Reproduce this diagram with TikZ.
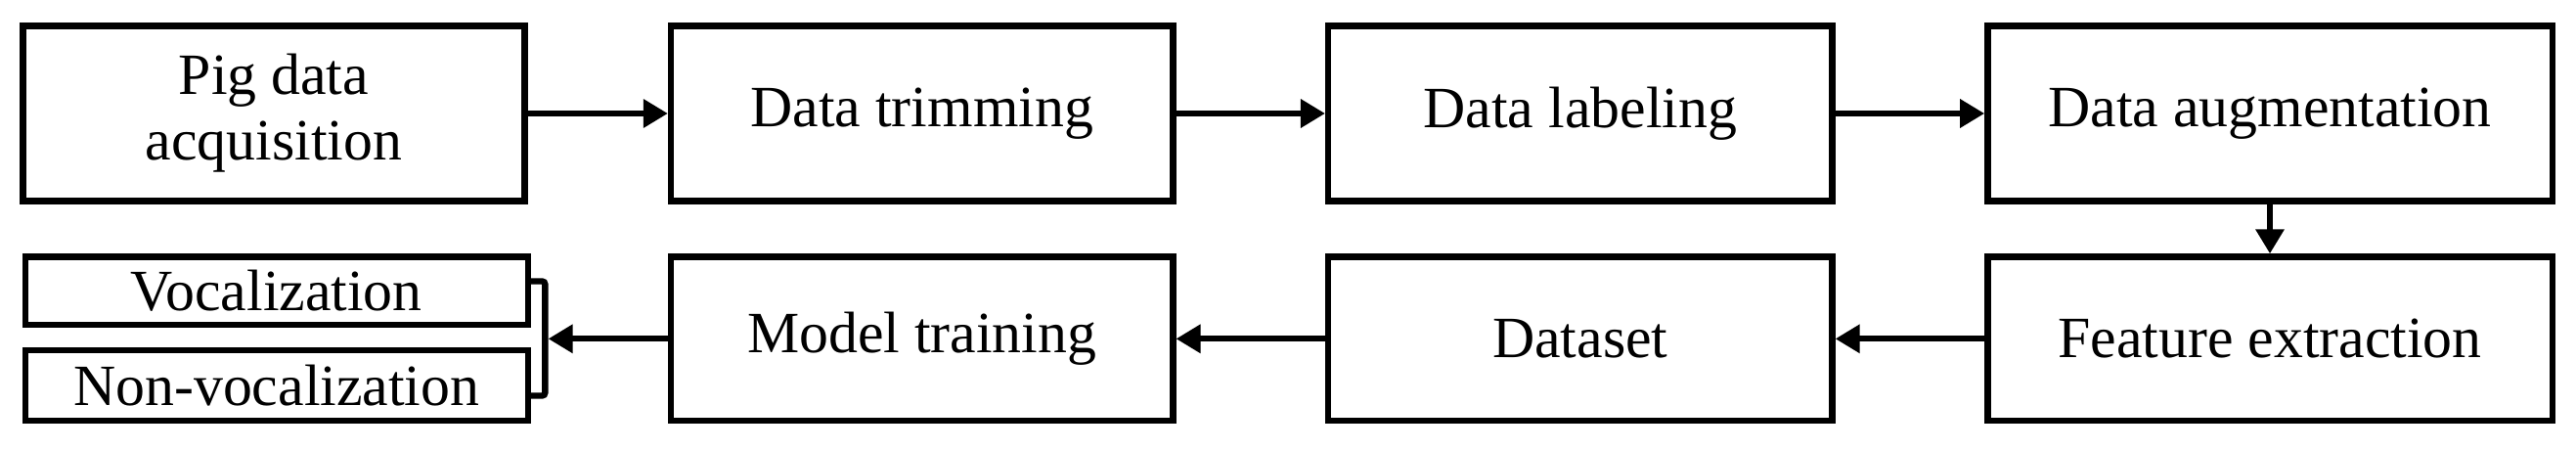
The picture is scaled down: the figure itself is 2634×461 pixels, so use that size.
\documentclass[tikz,border=0pt]{standalone}
\usepackage{fontspec}
\setmainfont{Liberation Serif}
\usetikzlibrary{arrows.meta}

\begin{document}
\begin{tikzpicture}[x=0.01cm, y=-0.01cm,
        box/.style={draw, line width=1.8pt, inner sep=0pt, align=center,
            minimum width=5.13cm, minimum height=1.79cm,
            font=\fontsize{17}{19}\selectfont},
        arr/.style={line width=1.8pt, -{Triangle[length=0.25cm, width=0.28cm]}}]

        \useasboundingbox (0, 0) rectangle (2634, 461);

        % top row
        \node[box] (acq) at (280, 116) {Pig data\\acquisition};
        \node[box] (trim) at (942.7, 116) {Data trimming};
        \node[box, minimum width=5.15cm] (lab) at (1615.8, 116) {Data labeling};
        \node[box, minimum width=5.77cm] (aug) at (2321, 116) {Data augmentation};

        % bottom row
        \node[box, minimum width=5.77cm, minimum height=1.675cm] (feat) at (2321, 346.3) {Feature extraction};
        \node[box, minimum width=5.15cm, minimum height=1.675cm] (data) at (1615.8, 346.3) {Dataset};
        \node[box, minimum height=1.675cm] (model) at (942.7, 346.3) {Model training};

        % outputs
        \node[box, minimum width=5.137cm, minimum height=0.695cm] (voc) at (282.8, 297.2) {Vocalization};
        \node[box, minimum width=5.137cm, minimum height=0.72cm] (nonvoc) at (282.8, 394.2) {Non-vocalization};

        \foreach \a/\b in {acq/trim, trim/lab, lab/aug, aug/feat, feat/data, data/model} {
            \draw[arr] (\a) -- (\b);
        }

        \coordinate (bt) at ([xshift=0.144cm, yshift=0.097cm]voc.east);
        \coordinate (bb) at ([xshift=0.144cm, yshift=-0.103cm]nonvoc.east);
        \coordinate (bm) at (model -| bt);
        \draw[line width=1.8pt, rounded corners=0.03cm] ([yshift=0.097cm]voc.east) -- (bt) -- (bb) -- ([yshift=-0.103cm]nonvoc.east);
        \draw[arr] (model) -- ([xshift=0.032cm]bm);

    \end{tikzpicture}
\end{document}
